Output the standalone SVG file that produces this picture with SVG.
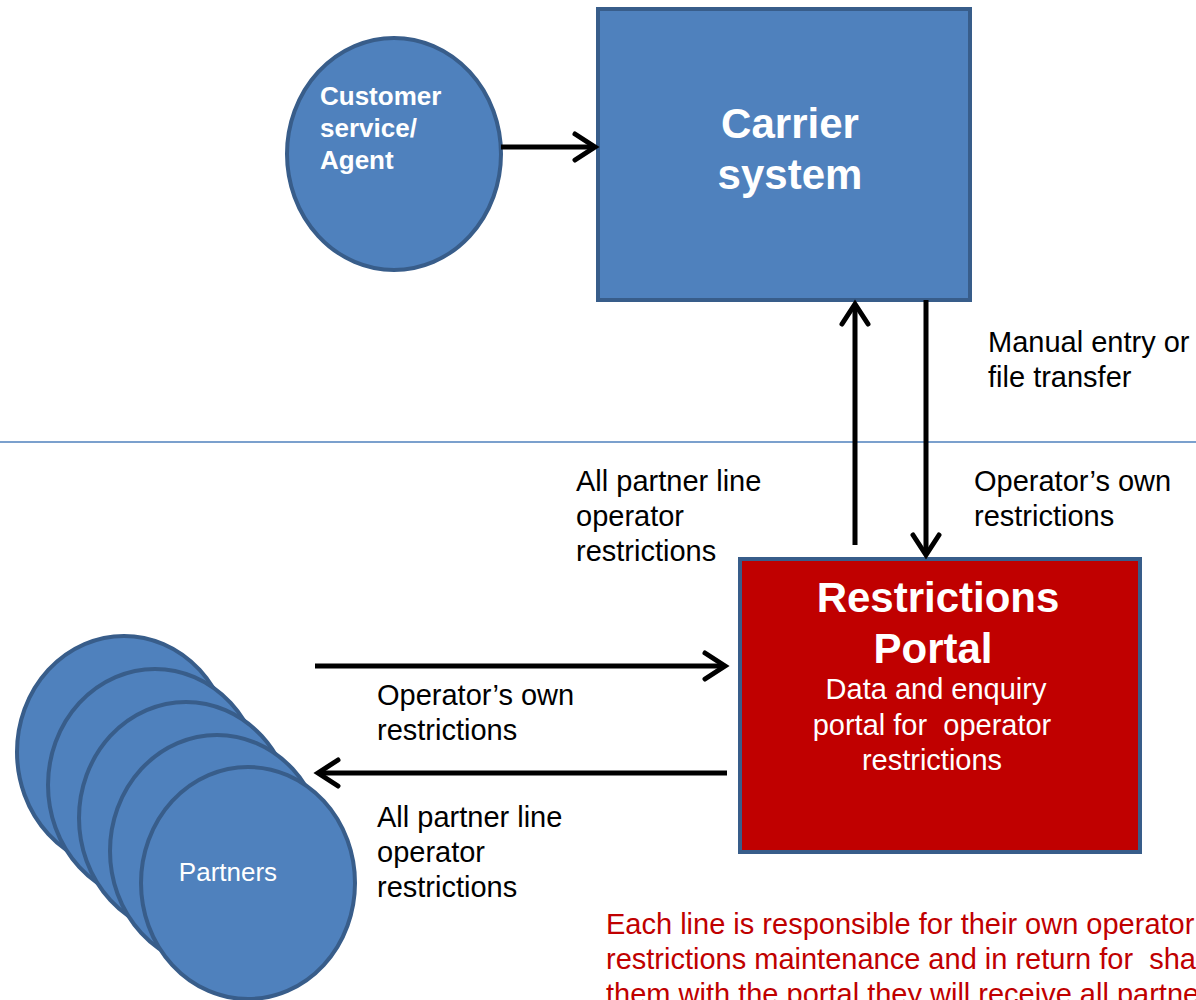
<svg xmlns="http://www.w3.org/2000/svg" width="1196" height="1000" viewBox="0 0 1196 1000">
<style>
.node{fill:#4f81bd;stroke:#385d8a;stroke-width:4}
.red{fill:#c00000;stroke:#385d8a;stroke-width:4}
.conn{stroke:#000;stroke-width:5;fill:none}
.lbl{font-family:"Liberation Sans",Arial,sans-serif;font-size:29px;fill:#000}
.wb{font-family:"Liberation Sans",Arial,sans-serif;font-weight:bold;fill:#fff}
.w{font-family:"Liberation Sans",Arial,sans-serif;fill:#fff;white-space:pre}
.note{font-family:"Liberation Sans",Arial,sans-serif;font-size:29px;fill:#c00000;white-space:pre}
</style>
<defs>
<marker id="arr" markerUnits="userSpaceOnUse" viewBox="-30 -20 40 40" refX="0" refY="0" markerWidth="40" markerHeight="40" orient="auto">
<path d="M-20,-13 L0,0 L-20,13" fill="none" stroke="#000" stroke-width="5" stroke-linecap="round" stroke-linejoin="miter"/>
</marker>
</defs>
<rect width="1196" height="1000" fill="#fff"/>
<line x1="0" y1="442" x2="1196" y2="442" stroke="#4f81bd" stroke-width="1.5"/>
<g id="customer">
<ellipse class="node" cx="394" cy="154" rx="107" ry="116"/>
<text class="wb" font-size="26" x="320" y="105">Customer</text>
<text class="wb" font-size="26" x="320" y="137">service/</text>
<text class="wb" font-size="26" x="320" y="169">Agent</text>
</g>
<g id="carrier">
<rect class="node" x="598" y="9" width="372" height="291"/>
<text class="wb" font-size="42" x="790" y="138" text-anchor="middle">Carrier</text>
<text class="wb" font-size="42" x="790" y="189" text-anchor="middle">system</text>
</g>
<g id="portal">
<rect class="red" x="740" y="559" width="400" height="293"/>
<text class="wb" font-size="42" x="938" y="612" text-anchor="middle">Restrictions</text>
<text class="wb" font-size="42" x="933" y="663" text-anchor="middle">Portal</text>
<text class="w" font-size="29" x="936" y="699" text-anchor="middle">Data and enquiry</text>
<text class="w" font-size="29" x="932" y="735" text-anchor="middle" xml:space="preserve">portal for  operator</text>
<text class="w" font-size="29" x="932" y="770" text-anchor="middle">restrictions</text>
</g>
<g id="partners">
<ellipse class="node" cx="124" cy="752" rx="107" ry="116"/>
<ellipse class="node" cx="155" cy="785" rx="107" ry="116"/>
<ellipse class="node" cx="186" cy="818" rx="107" ry="116"/>
<ellipse class="node" cx="217" cy="851" rx="107" ry="116"/>
<ellipse class="node" cx="248" cy="883" rx="107" ry="116"/>
<text class="w" font-size="26" x="228" y="881" text-anchor="middle">Partners</text>
</g>
<g id="connectors">
<line class="conn" x1="501" y1="147" x2="595" y2="147" marker-end="url(#arr)"/>
<line class="conn" x1="855" y1="545" x2="855" y2="304" marker-end="url(#arr)"/>
<line class="conn" x1="926" y1="300" x2="926" y2="555" marker-end="url(#arr)"/>
<line class="conn" x1="315" y1="666" x2="725" y2="666" marker-end="url(#arr)"/>
<line class="conn" x1="727" y1="773" x2="318" y2="773" marker-end="url(#arr)"/>
</g>
<g id="labels">
<text class="lbl" x="988" y="352">Manual entry or</text>
<text class="lbl" x="988" y="387">file transfer</text>
<text class="lbl" x="576" y="491">All partner line</text>
<text class="lbl" x="576" y="526">operator</text>
<text class="lbl" x="576" y="561">restrictions</text>
<text class="lbl" x="974" y="491">Operator’s own</text>
<text class="lbl" x="974" y="526">restrictions</text>
<text class="lbl" x="377" y="705">Operator’s own</text>
<text class="lbl" x="377" y="740">restrictions</text>
<text class="lbl" x="377" y="827">All partner line</text>
<text class="lbl" x="377" y="862">operator</text>
<text class="lbl" x="377" y="897">restrictions</text>
<text class="note" x="606" y="934">Each line is responsible for their own operator</text>
<text class="note" x="606" y="969" xml:space="preserve">restrictions maintenance and in return for  sharing</text>
<text class="note" x="606" y="1004">them with the portal they will receive all partner</text>
</g>
</svg>
